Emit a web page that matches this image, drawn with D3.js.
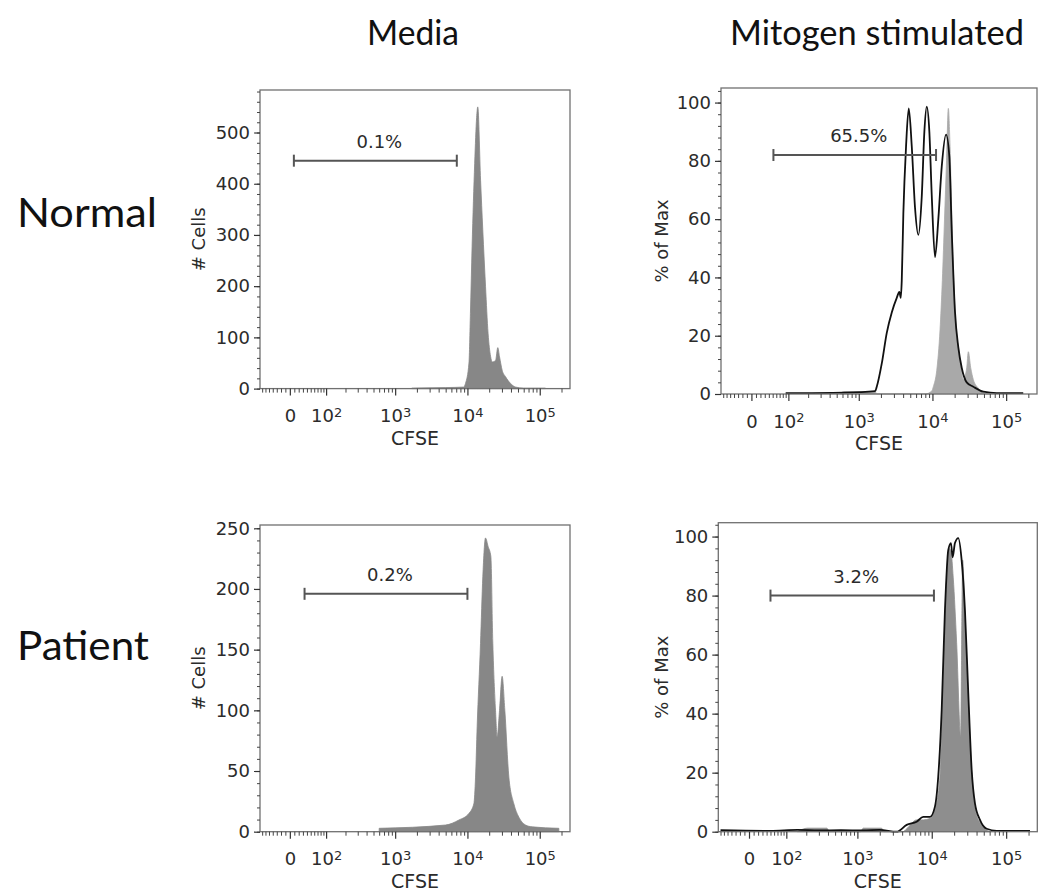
<!DOCTYPE html>
<html>
<head>
<meta charset="utf-8">
<script src="https://cdn.jsdelivr.net/npm/d3@7"></script>
<style>
body { margin: 0; background: #fff; }
svg { display: block; }
</style>
</head>
<body>
<div id="chart"></div>
<script>

var columns = ['Media', 'Mitogen stimulated'];
var rows = ['Normal', 'Patient'];

// Normal, media: # cells vs CFSE
var normMediaX = [1700, 5000, 8900, 9400, 10500, 11000, 11600, 12600, 13400, 13900, 15200, 16300, 17800, 19300, 20900, 22000, 24500, 26300, 27800, 30200, 33700, 39500, 46300, 60000, 120000];
var normMediaY = [1, 2, 3, 10, 50, 147, 277, 440, 529, 550, 407, 310, 199, 108, 63, 52, 55, 80, 62, 36, 23, 10, 3, 1, 1];

// Normal, mitogen: unstimulated overlay (grey) and stimulated (black), % of max
var normRefX = [560, 620, 1670, 1750, 7940, 9780, 10280, 11430, 12670, 13620, 14580, 15530, 16430, 17330, 18270, 20250, 23650, 26220, 29170, 30680, 33050, 35810, 41880, 48500, 60000];
var normRefY = [0, 0.8, 0.8, 0, 0, 1, 2.5, 8, 22, 39, 60, 80, 98, 85, 62, 28, 12, 5, 9, 14.5, 9, 5, 2, 0.5, 0];
var normStimX = [90, 620, 1670, 1755, 2054, 2400, 2806, 3280, 3556, 3717, 3835, 4030, 4385, 4772, 5240, 5800, 6440, 7160, 7770, 8370, 9080, 9790, 10840, 12020, 13370, 15290, 16950, 18270, 20250, 22450, 24950, 29170, 35860, 48980, 74460, 170600];
var normStimY = [0.3, 0.5, 1, 2.5, 10.5, 21, 28, 33, 35, 33, 39, 62, 85, 98, 85, 64, 54.6, 67.7, 90, 98.6, 90, 68, 47, 60, 78, 89, 81.5, 56, 28, 16, 9, 4, 2.5, 0.8, 0.3, 0.3];

// Patient, media: # cells vs CFSE
var patMediaX = [600, 4980, 7610, 10460, 12270, 12950, 13630, 15170, 16320, 17790, 19320, 21070, 22450, 24470, 25760, 27790, 30200, 32900, 37400, 43850, 51400, 63600, 78500, 183700];
var patMediaY = [2.8, 5.5, 9.6, 15, 23, 45, 86.5, 155, 210, 242, 235, 227, 155, 100, 78, 100, 128, 100, 45, 23, 12, 5.5, 4, 2.8];

// Patient, mitogen
var patRefX = [150, 208, 386, 420, 1100, 1200, 2120, 2250, 4100, 4600, 6270, 7690, 9460, 11040, 12880, 14280, 15850, 17030, 18110, 19450, 21610, 24470, 25460, 26020, 27940, 30960, 34390, 38080, 44460, 51880, 60520];
var patRefY = [0, 1.2, 1.2, 0, 0, 1.2, 1.2, 0, 0, 1, 4, 4, 4.5, 7.4, 18.6, 52.5, 86, 96, 95, 86, 64, 32, 75, 92, 72, 45, 20, 8, 3, 1, 0];
var patStimX = [-70, 50, 150, 300, 600, 1200, 2000, 3375, 4600, 6270, 7690, 9460, 11040, 12220, 13590, 15040, 16680, 18110, 19090, 20500, 22710, 25220, 27940, 30960, 34390, 38080, 44460, 54680, 74470, 209000];
var patStimY = [0.5, 0.3, 0.6, 0.4, 0.5, 0.4, 0.6, 0, 2.3, 3.4, 5, 5, 8.5, 18.6, 41, 75, 95.5, 97.8, 93, 97.8, 99.5, 92, 75, 47, 21, 9.6, 4, 1, 0.3, 0.3];

// gates
var gateLabels = ['0.1%', '65.5%', '0.2%', '3.2%'];
var gateFrom = [9, 52, 34, 50];
var gateTo = [7130, 11190, 10000, 10700];
var gateLevel = [445, 82, 196, 80];

// axes
var xMin = -77, xMax = 262144;
var xMajor = [0, 100, 1000, 10000, 100000];
var xMajorExp = ['', '2', '3', '4', '5'];
var xMinor = [-70, -60, -50, -40, -30, -20, -10, 10, 20, 30, 40, 50, 60, 70, 80, 90,
  200, 300, 400, 500, 600, 700, 800, 900, 2000, 3000, 4000, 5000, 6000, 7000, 8000, 9000,
  20000, 30000, 40000, 50000, 60000, 70000, 80000, 90000, 200000];
var countTicksNormal = [0, 100, 200, 300, 400, 500];
var countTicksPatient = [0, 50, 100, 150, 200, 250];
var pctTicks = [0, 20, 40, 60, 80, 100];

var width = 1044, height = 894;
var svg = d3.select('#chart').append('svg')
    .attr('width', width)
    .attr('height', height);

var panels = [
  {box: [260, 90, 570, 388.6], yMax: 583, yTicks: countTicksNormal, yMinor: 20, yLabel: '# Cells', labX: 205,
   fill: [normMediaX, normMediaY], fillColor: '#878787'},
  {box: [721, 88, 1037, 394], yMax: 105, yTicks: pctTicks, yMinor: 4, yLabel: '% of Max', labX: 668,
   fill: [normRefX, normRefY], fillColor: '#a9a9a9', line: [normStimX, normStimY]},
  {box: [260, 525, 570, 831.7], yMax: 252.7, yTicks: countTicksPatient, yMinor: 10, yLabel: '# Cells', labX: 205,
   fill: [patMediaX, patMediaY], fillColor: '#878787'},
  {box: [718.3, 522.7, 1037.3, 831.7], yMax: 104.7, yTicks: pctTicks, yMinor: 4, yLabel: '% of Max', labX: 668,
   fill: [patRefX, patRefY], fillColor: '#8e8e8e', line: [patStimX, patStimY]}
];

// FlowJo-like biexponential display
var biex = function(v) {
	return Math.asinh(v / 70);
}

var labelFont = '"DejaVu Sans", sans-serif';
var ink = '#2b2b2b';

var drawPanel = function(p, i) {
	var x0 = p.box[0], y0 = p.box[1], x1 = p.box[2], y1 = p.box[3];
	var xs = d3.scaleLinear().domain([biex(xMin), biex(xMax)]).range([x0, x1]);
	var ys = d3.scaleLinear().domain([0, p.yMax]).range([y1, y0]);
	var xpos = function(v) { return xs(biex(v)); };
	var g = svg.append('g');

	var area = d3.area()
	    .curve(d3.curveMonotoneX)
	    .x(function(d) { return xpos(d[0]); })
	    .y0(ys(0))
	    .y1(function(d) { return ys(d[1]); });
	var line = d3.line()
	    .curve(d3.curveMonotoneX)
	    .x(function(d) { return xpos(d[0]); })
	    .y(function(d) { return ys(d[1]); });

	g.append('path')
	    .datum(d3.zip(p.fill[0], p.fill[1]))
	    .attr('d', area)
	    .attr('fill', p.fillColor)
	    .attr('stroke', p.fillColor)
	    .attr('stroke-width', 0.8);

	if (p.line) {
		g.append('path')
		    .datum(d3.zip(p.line[0], p.line[1]))
		    .attr('d', line)
		    .attr('fill', 'none')
		    .attr('stroke', '#111')
		    .attr('stroke-width', 1.8)
		    .attr('stroke-linejoin', 'round');
	}

	g.append('rect')
	    .attr('x', x0).attr('y', y0)
	    .attr('width', x1 - x0).attr('height', y1 - y0)
	    .attr('fill', 'none')
	    .attr('stroke', '#707070')
	    .attr('stroke-width', 1.3);

	// x axis: minor then major ticks with 10^n labels
	g.append('g')
	    .attr('transform', 'translate(0,' + y1 + ')')
	    .call(d3.axisBottom(xs).tickValues(xMinor.map(biex)).tickSize(4).tickFormat(''))
	    .call(function(a) { a.select('.domain').remove(); a.selectAll('line').attr('stroke', '#444'); });
	var xa = g.append('g')
	    .attr('transform', 'translate(0,' + y1 + ')')
	    .call(d3.axisBottom(xs).tickValues(xMajor.map(biex)).tickSize(7).tickPadding(14).tickFormat(''))
	    .call(function(a) { a.select('.domain').remove(); a.selectAll('line').attr('stroke', '#333').attr('stroke-width', 1.2); });
	xa.selectAll('.tick text')
	    .attr('font-family', labelFont)
	    .attr('font-size', 18)
	    .attr('fill', ink)
	    .each(function(d, k) {
	    	var t = d3.select(this);
	    	if (xMajorExp[k] === '') {
	    		t.text('0');
	    	} else {
	    		t.append('tspan').text('10');
	    		t.append('tspan').attr('dy', '-0.45em').attr('font-size', 13).text(xMajorExp[k]);
	    	}
	    });

	// y axis
	g.append('g')
	    .attr('transform', 'translate(' + x0 + ',0)')
	    .call(d3.axisLeft(ys).tickValues(d3.range(0, p.yMax, p.yMinor)).tickSize(3).tickFormat(''))
	    .call(function(a) { a.select('.domain').remove(); a.selectAll('line').attr('stroke', '#444'); });
	g.append('g')
	    .attr('transform', 'translate(' + x0 + ',0)')
	    .call(d3.axisLeft(ys).tickValues(p.yTicks).tickSize(6).tickPadding(4))
	    .call(function(a) {
	    	a.select('.domain').remove();
	    	a.selectAll('line').attr('stroke', '#333').attr('stroke-width', 1.2);
	    	a.selectAll('text').attr('font-family', labelFont).attr('font-size', 18).attr('fill', ink);
	    });

	g.append('text')
	    .attr('transform', 'translate(' + p.labX + ',' + ((y0 + y1) / 2) + ') rotate(-90)')
	    .attr('text-anchor', 'middle')
	    .attr('font-family', labelFont)
	    .attr('font-size', 18)
	    .attr('fill', ink)
	    .text(p.yLabel);

	g.append('text')
	    .attr('x', (x0 + x1) / 2)
	    .attr('y', y1 + 56)
	    .attr('text-anchor', 'middle')
	    .attr('font-family', labelFont)
	    .attr('font-size', 19)
	    .attr('fill', ink)
	    .text('CFSE');

	// gate bar
	var gx0 = xpos(gateFrom[i]), gx1 = xpos(gateTo[i]), gy = ys(gateLevel[i]);
	var gate = g.append('g').attr('stroke', '#555').attr('stroke-width', 2);
	gate.append('line').attr('x1', gx0).attr('x2', gx1).attr('y1', gy).attr('y2', gy);
	gate.append('line').attr('x1', gx0).attr('x2', gx0).attr('y1', gy - 6).attr('y2', gy + 6);
	gate.append('line').attr('x1', gx1).attr('x2', gx1).attr('y1', gy - 6).attr('y2', gy + 6);
	g.append('text')
	    .attr('x', (gx0 + gx1) / 2 + 4)
	    .attr('y', gy - 13)
	    .attr('text-anchor', 'middle')
	    .attr('font-family', labelFont)
	    .attr('font-size', 18)
	    .attr('fill', ink)
	    .text(gateLabels[i]);
}

panels.forEach(drawPanel);

// column headers and row labels
var headX = [413, 877], headW = [92, 294];
svg.selectAll('.head')
    .data(columns)
    .enter().append('text')
    .attr('class', 'head')
    .attr('x', function(d, k) { return headX[k]; })
    .attr('y', 45)
    .attr('text-anchor', 'middle')
    .attr('font-family', 'Lato, "Open Sans", sans-serif')
    .attr('font-size', 34)
    .attr('fill', '#111')
    .attr('textLength', function(d, k) { return headW[k]; })
    .attr('lengthAdjust', 'spacingAndGlyphs')
    .text(function(d) { return d; });

var rowY = [227, 660], rowW = [140, 132];
svg.selectAll('.row')
    .data(rows)
    .enter().append('text')
    .attr('class', 'row')
    .attr('x', 17)
    .attr('y', function(d, k) { return rowY[k]; })
    .attr('font-family', 'Lato, "Open Sans", sans-serif')
    .attr('font-size', 40)
    .attr('fill', '#111')
    .attr('textLength', function(d, k) { return rowW[k]; })
    .attr('lengthAdjust', 'spacingAndGlyphs')
    .text(function(d) { return d; });

</script>
</body>
</html>
